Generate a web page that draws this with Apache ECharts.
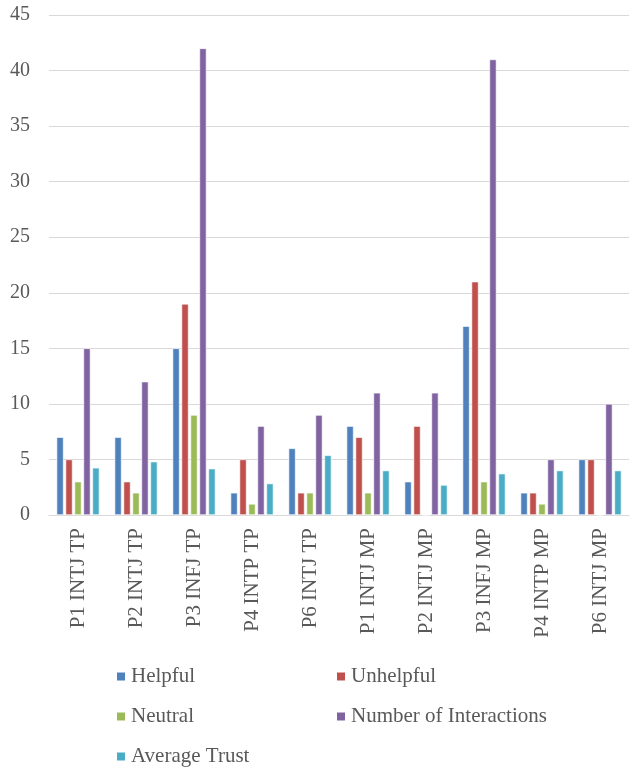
<!DOCTYPE html>
<html><head><meta charset="utf-8">
<script src="https://cdn.jsdelivr.net/npm/echarts@6/dist/echarts.min.js"></script>
<style>html,body{margin:0;padding:0;background:#fff}#c{width:631px;height:767px}</style>
</head><body><div id="c"></div>
<script>
const categories = ['P1 INTJ TP','P2 INTJ TP','P3 INFJ TP','P4 INTP TP','P6 INTJ TP','P1 INTJ MP','P2 INTJ MP','P3 INFJ MP','P4 INTP MP','P6 INTJ MP'];
const helpful = [7,7,15,2,6,8,3,17,2,5];
const unhelpful = [5,3,19,5,2,7,8,21,2,5];
const neutral = [3,2,9,1,2,2,0,3,1,0];
const interactions = [15,12,42,8,9,11,11,41,5,10];
const avgTrust = [4.25,4.8,4.17,2.83,5.37,4.0,2.7,3.72,4.0,4.0];
const yTicks = {min:0, max:45, interval:5};

const font = 'Liberation Serif, Times New Roman, serif';
const txt = '#595959';
const colors = ['#4F81BD','#C0504D','#9BBB59','#8064A2','#4BACC6'];
const names = ['Helpful','Unhelpful','Neutral','Number of Interactions','Average Trust'];
const datas = [helpful, unhelpful, neutral, interactions, avgTrust];

const chart = echarts.init(document.getElementById('c'), null, {renderer:'canvas'});
const legendCommon = {orient:'vertical', itemWidth:10, itemHeight:10, itemGap:19, icon:'rect',
  padding:0, height:120, top:666,
  textStyle:{fontFamily:font, fontSize:21, color:txt}};
chart.setOption({
  animation:false,
  color: colors,
  grid:{left:49, right:2, top:15, bottom:252, containLabel:false},
  legend:[
    Object.assign({data:['Helpful','Neutral','Average Trust'], left:115}, legendCommon),
    Object.assign({data:['Unhelpful','Number of Interactions'], left:335}, legendCommon)
  ],
  xAxis:{type:'category', data:categories,
    axisLine:{show:true, lineStyle:{color:'#d9d9d9', width:1}},
    axisTick:{show:false},
    axisLabel:{rotate:90, interval:0, margin:13, fontFamily:font, fontSize:21, color:txt}},
  yAxis:{type:'value', min:yTicks.min, max:yTicks.max, interval:yTicks.interval,
    axisLine:{show:false}, axisTick:{show:false},
    splitLine:{lineStyle:{color:'#d9d9d9', width:1}},
    axisLabel:{margin:19, fontFamily:font, fontSize:20, color:txt}},
  series: names.map((n,i)=>({name:n, type:'bar', data:datas[i], barWidth:7, barGap:'28%',
    itemStyle:{color:colors[i], borderColor:'#fff', borderWidth:0.6}}))
});
</script></body></html>
